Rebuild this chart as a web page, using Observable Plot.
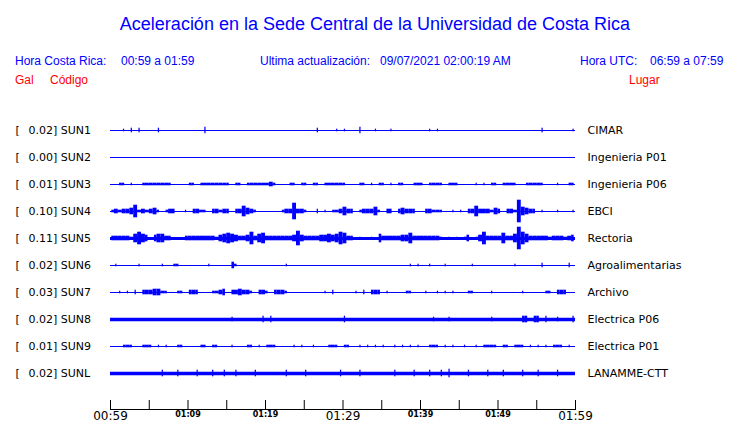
<!DOCTYPE html>
<html><head><meta charset="utf-8">
<script src="https://cdn.jsdelivr.net/npm/d3@7"></script>
<script src="https://cdn.jsdelivr.net/npm/@observablehq/plot@0.6"></script>
<style>
body{margin:0;background:#fff;}
#wrap{position:relative;width:740px;height:423px;overflow:hidden;background:#fff;}
#head{position:relative;width:740px;height:100px;font-family:"Liberation Sans",Arial,sans-serif;}
#head span{position:absolute;white-space:nowrap;line-height:1;}
.b{color:#0000ff;font-size:12px;}
.r{color:#ff0000;font-size:12px;}
#title{left:5px;width:740px;text-align:center;top:15px;font-size:18px;color:#0000ff;}
#chart svg{display:block;}
</style></head>
<body><div id="wrap"><div id="head">
<span id="title">Aceleración en la Sede Central de la Universidad de Costa Rica</span>
<span class="b" style="left:15px;top:55px">Hora Costa Rica:</span>
<span class="b" style="left:121px;top:55px">00:59 a 01:59</span>
<span class="b" style="left:260px;top:55px">Ultima actualización:</span>
<span class="b" style="left:380px;top:55px">09/07/2021 02:00:19 AM</span>
<span class="b" style="left:580px;top:55px">Hora UTC:</span>
<span class="b" style="left:650px;top:55px">06:59 a 07:59</span>
<span class="r" style="left:15px;top:74px">Gal</span>
<span class="r" style="left:50px;top:74px">Código</span>
<span class="r" style="left:629px;top:74px">Lugar</span>
</div><div id="chart"></div></div>
<script>
// Stations
const codes = ["SUN1","SUN2","SUN3","SUN4","SUN5","SUN6","SUN7","SUN8","SUN9","SUNL"];
const peaks = ["0.02","0.00","0.01","0.10","0.11","0.02","0.03","0.02","0.01","0.02"];
const places = ["CIMAR","Ingenieria P01","Ingenieria P06","EBCI","Rectoria","Agroalimentarias","Archivo","Electrica P06","Electrica P01","LANAMME-CTT"];

// Envelope half-amplitude per 30-second sample (base-36 digit), 120 samples = 60 minutes
const sun1 = "0001020200 0020000000 0000300000 0000000000 0000000000 0002000010 1000300010 0010000000 0010100000 0000000000 0000000000 0200000001";
const sun2 = "0000000000 0000000000 0000000000 0000000000 0000000000 0000000000 0000000000 0000000000 0000000000 0000000000 0000000000 0000000000";
const sun3 = "0011010011 1111110000 1101111111 1011011111 1210001101 1011011111 1000110101 1010110011 1011110111 0000101011 0111100111 1100010011";
const sun4 = "1212236121 2310122001 0221102212 2022532100 0000122822 1002010112 4220122241 0220232220 0221110010 1022522213 20221b4322 0100010001";
const sun5 = "2222214643 0344220002 2222222134 5432236245 2222222373 2222334346 5220100104 2222233522 2222210101 0130136222 25224b6422 2221222123";
const sun6 = "0100000100 0001001100 0000010000 0310000000 0000010000 0000000000 0000000000 0000000101 0010001000 0001000000 0000100000 0200000020";
const sun7 = "0010102022 2331100110 2220001123 0223221022 1022210000 0000010200 0001020222 0100001100 0100101010 0011000010 0000001000 0011022200";
const sun8 = "0000000000 0000000000 0000000000 0200000003 0300000000 0000000000 3000000000 0000000000 0002000200 0000000020 0000003303 3030020003";
const sun9 = "0001110011 1010100110 0001101100 0100011010 1110000101 0010001110 1100101010 1001010101 0011101010 0100101111 0110111010 1010111010";
const sunl = "0000000000 0003000300 0030003003 0030000300 0000030000 3000000003 0000300000 0003000030 0030030400 0030000300 0300003000 3000030000";
const traces = [sun1, sun2, sun3, sun4, sun5, sun6, sun7, sun8, sun9, sunl];

// Time axis (minutes after 00:59)
const tickMinutes = [0,5,10,15,20,25,30,35,40,45,50,55,60];
const majorTicks = [0,30,60];
const majorLabels = ["00:59","01:29","01:59"];
const minorTicks = [10,20,40,50];
const minorLabels = ["01:09","01:19","01:39","01:49"];

// styles
const BLUE = "#0000ff";
const lineWidths = [1.2,1.2,1.2,1.2,3,1.2,1.2,3.5,1.2,3.3];
const step = 0.5;      // minutes per sample
const pxPerRow = 27;
const trim = 0.17;     // narrowing of isolated spikes (minutes)

const rows = codes.map((c, i) => ({i, code: c, peak: peaks[i], place: places[i], w: lineWidths[i]}));
const segs = traces.flatMap((s, i) => {
  const v = [...s.replace(/ /g, "")].map(c => parseInt(c, 36));
  return v.map((a, j) => ({i, t: j * step, a, prev: v[j - 1] || 0, next: v[j + 1] || 0})).filter(d => d.a > 0);
});

const half = d => (d.a + 0.3) / pxPerRow;

const chart = Plot.plot({
  width: 740, height: 323,
  marginLeft: 110, marginRight: 165, marginTop: 0, marginBottom: 14,
  x: {domain: [0, 60], axis: null},
  y: {domain: [0, 9], range: [30, 273], axis: null},
  style: {fontFamily: "DejaVu Sans", background: "white", color: "black", overflow: "visible"},
  marks: [
    Plot.ruleY(rows, {y: "i", x1: () => 0, x2: () => 60, stroke: BLUE, strokeWidth: "w"}),
    Plot.rect(segs, {
      x1: d => d.t + (d.prev ? 0 : trim),
      x2: d => d.t + step - (d.next ? 0 : trim),
      y1: d => d.i - half(d), y2: d => d.i + half(d), fill: BLUE
    }),
    Plot.text(rows, {y: "i", text: () => "[", frameAnchor: "left", dx: -95, textAnchor: "start", fontSize: 11}),
    Plot.text(rows, {y: "i", text: d => `${d.peak}] ${d.code}`, frameAnchor: "left", dx: -82, textAnchor: "start", fontSize: 11}),
    Plot.text(rows, {y: "i", x: () => 60, text: "place", dx: 12, textAnchor: "start", fontSize: 11}),
    Plot.frame({anchor: "bottom", stroke: "black"}),
    Plot.tickX(tickMinutes, {x: d => d, stroke: "black", insetTop: 300}),
    Plot.text(majorTicks, {x: d => d, text: (d, i) => majorLabels[i], frameAnchor: "bottom", lineAnchor: "top", dy: 2, fontSize: 12}),
    Plot.text(minorTicks, {x: d => d, text: (d, i) => minorLabels[i], frameAnchor: "bottom", lineAnchor: "top", dy: 2, fontSize: 8, fontWeight: "bold"})
  ]
});
document.getElementById("chart").appendChild(chart);
</script>
</body></html>
